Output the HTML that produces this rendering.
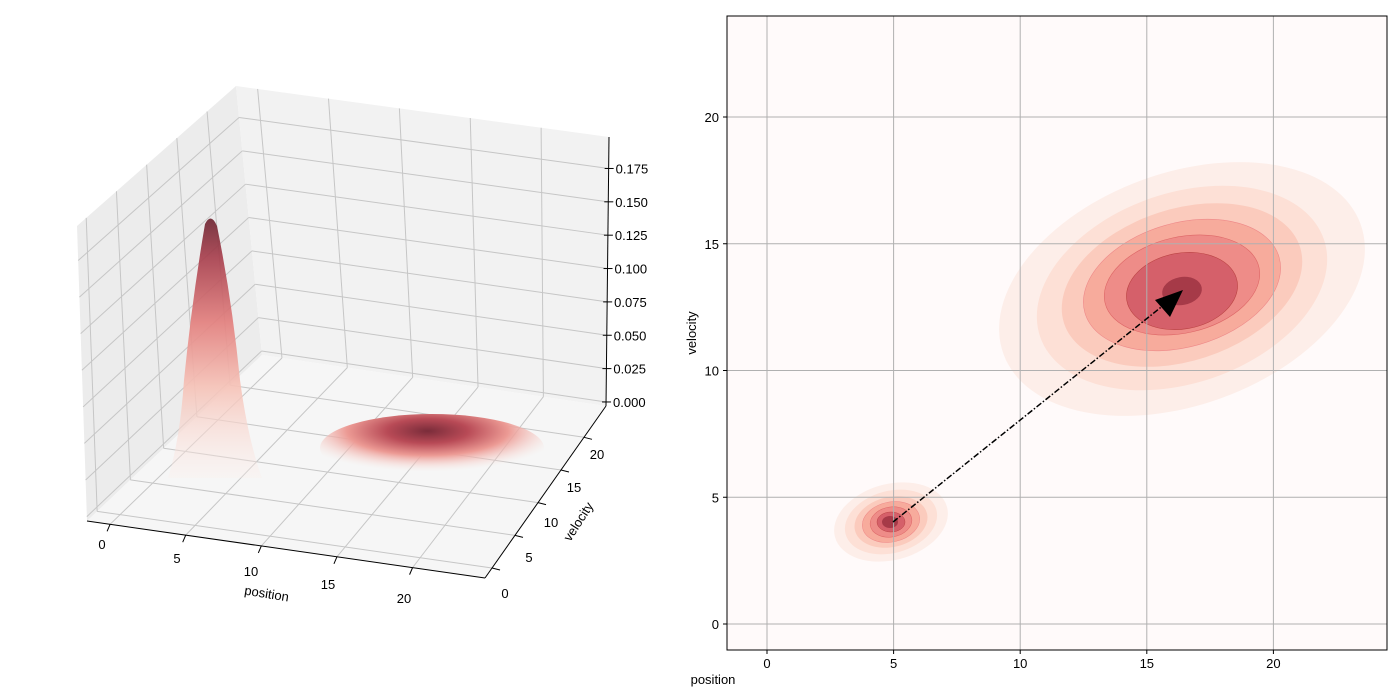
<!DOCTYPE html>
<html><head><meta charset="utf-8"><style>
html,body{margin:0;padding:0;background:#fff;}
svg{display:block;font-family:"Liberation Sans",sans-serif;}
</style></head><body>
<svg id="s" width="1400" height="700" viewBox="0 0 1400 700" xmlns="http://www.w3.org/2000/svg">
<defs>
<linearGradient id="pk" x1="0" y1="0" x2="0" y2="1">
<stop offset="0" stop-color="#6e2632"/>
<stop offset="0.15" stop-color="#a8404e"/>
<stop offset="0.4" stop-color="#e3807e"/>
<stop offset="0.65" stop-color="#f6c3b8"/>
<stop offset="1" stop-color="#fbeeea" stop-opacity="0.3"/>
</linearGradient>
<radialGradient id="bl" cx="0.48" cy="0.25" r="0.6">
<stop offset="0" stop-color="#7a2c3a"/>
<stop offset="0.3" stop-color="#b84a56"/>
<stop offset="0.6" stop-color="#ec9a94"/>
<stop offset="1" stop-color="#fbe6e0" stop-opacity="0"/>
</radialGradient>
</defs>
<g id="g3"></g>
<path d="M205,224 Q211,212 217,226 Q232,300 240,380 Q248,440 262,478 L168,478 Q180,440 184,380 Q192,300 205,224 Z" fill="url(#pk)" opacity="0.92"/>
<ellipse cx="432" cy="448" rx="112" ry="34" fill="url(#bl)"/>

<rect x="727" y="16" width="660" height="634" fill="#fffafa"/>
<ellipse cx="1182" cy="289" rx="190" ry="116" transform="rotate(-20 1182 289)" fill="#fdeee9"/>
<ellipse cx="1182" cy="288" rx="150" ry="95" transform="rotate(-19 1182 288)" fill="#fde0d6"/>
<ellipse cx="1182" cy="285" rx="124" ry="76" transform="rotate(-18 1182 285)" fill="#fbcbbd"/>
<ellipse cx="1182" cy="285" rx="101" ry="62" transform="rotate(-16 1182 285)" fill="#f7ab9c" stroke="#e88" stroke-width="0.6"/>
<ellipse cx="1182" cy="285" rx="79" ry="48" transform="rotate(-13 1182 285)" fill="#ee8c88" stroke="#d66" stroke-width="0.6"/>
<ellipse cx="1182" cy="291" rx="56" ry="38" transform="rotate(-10 1182 291)" fill="#d5606a" stroke="#b44" stroke-width="0.6"/>
<ellipse cx="1182" cy="291" rx="20" ry="14" transform="rotate(-10 1182 291)" fill="#a63a48"/>

<ellipse cx="891" cy="522" rx="58" ry="38" transform="rotate(-15 891 522)" fill="#fdeee9"/>
<ellipse cx="891" cy="522" rx="47" ry="31" transform="rotate(-15 891 522)" fill="#fde0d6"/>
<ellipse cx="891" cy="522" rx="37" ry="25" transform="rotate(-13 891 522)" fill="#fbcbbd"/>
<ellipse cx="891" cy="522" rx="29" ry="20" transform="rotate(-12 891 522)" fill="#f7ab9c" stroke="#e88" stroke-width="0.5"/>
<ellipse cx="891" cy="522" rx="21" ry="15" transform="rotate(-10 891 522)" fill="#ee8c88" stroke="#d66" stroke-width="0.5"/>
<ellipse cx="891" cy="522" rx="14" ry="10" fill="#d5606a" stroke="#b44" stroke-width="0.5"/>
<ellipse cx="890" cy="522" rx="8" ry="6" fill="#a63a48"/>

<g id="gr" stroke="#b0b0b0" stroke-width="1"></g>
<line x1="893" y1="522" x2="1165" y2="304" stroke="#000" stroke-width="1.5" stroke-dasharray="6,2,1.5,2"/>
<polygon points="1183,290 1155,300 1170,317" fill="#000"/>
<rect x="727" y="16" width="660" height="634" fill="none" stroke="#000" stroke-width="1"/>
<g id="rt" font-size="13" fill="#000"></g>
<text x="713" y="684" font-size="13" text-anchor="middle">position</text>
<text transform="translate(696,333) rotate(-90)" font-size="13" text-anchor="middle">velocity</text>
</svg>
<script>
(function(){
var NS="http://www.w3.org/2000/svg";
function el(p,t,a,txt){var e=document.createElementNS(NS,t);for(var k in a)e.setAttribute(k,a[k]);if(txt!==undefined)e.textContent=txt;p.appendChild(e);return e;}
var L=function(a,b,t){return [a[0]+(b[0]-a[0])*t,a[1]+(b[1]-a[1])*t];};
var FL=[87,521],FR=[485,578],BR=[606,406],BL=[262,355],TFL=[77,226],TBL=[236,86],TBR=[609,137];
var g=document.getElementById('g3');
function poly(pts,f){el(g,'polygon',{points:pts.map(function(p){return p.join(',')}).join(' '),fill:f});}
poly([FL,BL,TBL,TFL],'#ececec');
poly([BL,BR,TBR,TBL],'#f2f2f2');
poly([FL,FR,BR,BL],'#f6f6f6');
function ln(a,b,c,w){el(g,'line',{x1:a[0],y1:a[1],x2:b[0],y2:b[1],stroke:c,'stroke-width':w||1});}
var gc='#c6c6c6';
var S=[],T=[];for(var i=0;i<5;i++)S.push(0.058+0.19*i);
for(var k=0;k<8;k++)T.push(0.015+0.124*k);
S.forEach(function(s){
 ln(L(BL,BR,s),L(TBL,TBR,s),gc);
 ln(L(FL,FR,s),L(BL,BR,s),gc);
 ln(L(FL,BL,s),L(TFL,TBL,s),gc);
 ln(L(FL,BL,s),L(FR,BR,s),gc);
});
T.forEach(function(t){
 ln(L(BL,TBL,t),L(BR,TBR,t),gc);
 ln(L(FL,TFL,t),L(BL,TBL,t),gc);
});
ln(FL,FR,'#000',1);ln(FR,BR,'#000',1);ln(BR,TBR,'#000',1);
S.forEach(function(s){var p=L(FL,FR,s);ln(p,[p[0]-3,p[1]+7],'#000',1);
 var q=L(FR,BR,s);ln(q,[q[0]+8,q[1]+2],'#000',1);});
T.forEach(function(t){var p=L(BR,TBR,t);ln([p[0]-4,p[1]],[p[0]+5,p[1]],'#000',1);});
var zl=['0.000','0.025','0.050','0.075','0.100','0.125','0.150','0.175'];
T.forEach(function(t,i){var p=L(BR,TBR,t);el(g,'text',{x:p[0]+7,y:p[1]+5,'font-size':13},zl[i]);});
[[102,549,'0'],[177,563,'5'],[251,576,'10'],[328,589,'15'],[404,603,'20']].forEach(function(a){el(g,'text',{x:a[0],y:a[1],'font-size':13,'text-anchor':'middle'},a[2]);});
[[505,598,'0'],[529,562,'5'],[551,527,'10'],[574,492,'15'],[597,459,'20']].forEach(function(a){el(g,'text',{x:a[0],y:a[1],'font-size':13,'text-anchor':'middle'},a[2]);});
el(g,'text',{transform:'translate(266,598) rotate(9)','font-size':13,'text-anchor':'middle'},'position');
el(g,'text',{transform:'translate(582,524) rotate(-57)','font-size':13,'text-anchor':'middle'},'velocity');
var gr=document.getElementById('gr'),rt=document.getElementById('rt');
for(var v=0;v<=20;v+=5){var x=767+v*25.32,y=624-v*25.35;
 el(gr,'line',{x1:x,y1:16,x2:x,y2:650});el(gr,'line',{x1:727,y1:y,x2:1387,y2:y});
 el(rt,'line',{x1:x,y1:650,x2:x,y2:654,stroke:'#000'});el(rt,'line',{x1:723,y1:y,x2:727,y2:y,stroke:'#000'});
 el(rt,'text',{x:x,y:668,'text-anchor':'middle'},String(v));
 el(rt,'text',{x:719,y:y+5,'text-anchor':'end'},String(v));}
})();
</script>
</body></html>
